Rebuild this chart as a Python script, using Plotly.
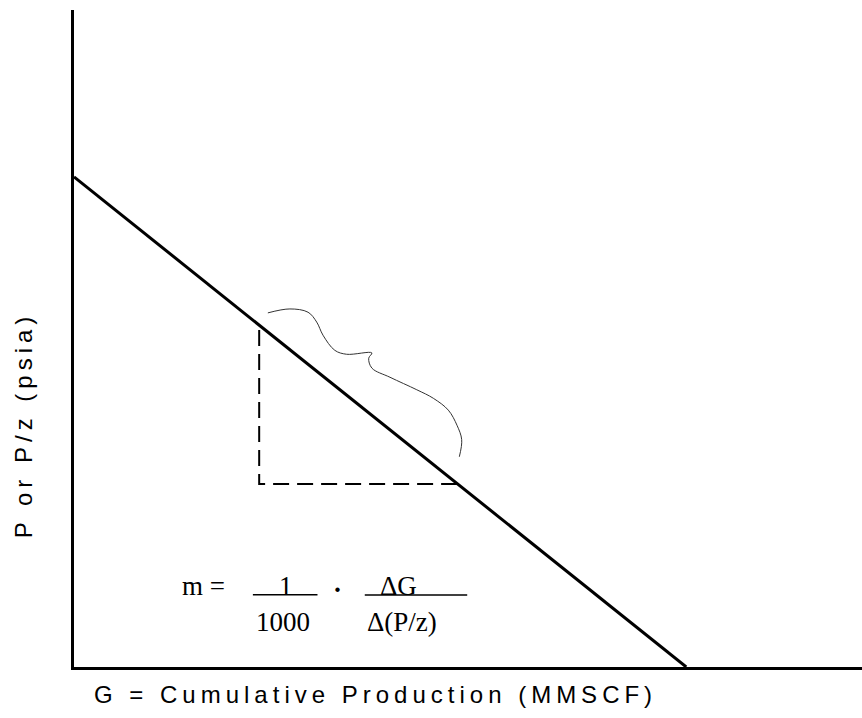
import plotly.graph_objects as go

# ---- data (schematic units: G and P/z scaled 0-100) ----
line_G = [0.0, 77.7]
line_P = [74.6, 0.0]

tri_G = [23.5, 23.5, 48.6]
tri_P = [51.3, 27.85, 27.85]

brace_G = [24.6, 27.4, 29.7, 30.8, 31.6, 33.1, 34.6, 37.8, 37.4, 37.8,
           40.1, 43.5, 45.6, 47.5, 48.6, 49.2, 48.9]
brace_P = [53.9, 54.5, 54.0, 52.5, 50.5, 48.2, 47.6, 47.8, 47.0, 45.5,
           44.1, 42.2, 40.9, 39.1, 36.8, 34.6, 32.0]

x_title = "G = Cumulative Production (MMSCF)"
y_title = "P or P/z (psia)"

fig = go.Figure()
fig.add_trace(go.Scatter(x=line_G, y=line_P, mode="lines",
                         line=dict(color="black", width=3), hoverinfo="skip"))
fig.add_trace(go.Scatter(x=tri_G, y=tri_P, mode="lines",
                         line=dict(color="black", width=2, dash="16px,8px"),
                         hoverinfo="skip"))
fig.add_trace(go.Scatter(x=brace_G, y=brace_P, mode="lines",
                         line=dict(color="#333333", width=1, shape="spline"),
                         hoverinfo="skip"))

serif = dict(family="Liberation Serif, Times New Roman, serif", size=27, color="black")
formula = [
    ("m =", 16.4, 12.3),
    ("1", 26.9, 12.3),
    ("<b>·</b>", 33.5, 11.7),
    ("ΔG", 41.2, 12.3),
    ("1000", 26.5, 6.85),
    ("Δ(P/z)", 41.6, 6.85),
]
for txt, gx, py in formula:
    fig.add_annotation(x=gx, y=py, xref="x", yref="y", text=txt, showarrow=False,
                       font=serif, xanchor="center", yanchor="middle")

bars = [(22.7, 30.9, 11.0), (36.9, 49.9, 10.96)]
for x0, x1, yb in bars:
    fig.add_shape(type="line", x0=x0, x1=x1, y0=yb, y1=yb, xref="x", yref="y",
                  line=dict(color="black", width=1.6))

sans = dict(family="Liberation Sans, Arial, sans-serif", size=24, color="black")
fig.add_annotation(x=0.0228, y=-0.0426, xref="paper", yref="paper",
                   text='<span style="letter-spacing:5px">' + x_title + "</span>",
                   showarrow=False, font=sans, xanchor="left", yanchor="middle")
fig.add_annotation(x=-0.0647, y=0.368, xref="paper", yref="paper",
                   text='<span style="letter-spacing:5px">' + y_title + "</span>",
                   showarrow=False, font=sans, textangle=-90,
                   xanchor="center", yanchor="middle")

fig.update_xaxes(range=[0, 100], showline=True, linecolor="black", linewidth=3,
                 showgrid=False, zeroline=False, showticklabels=False, ticks="")
fig.update_yaxes(range=[0, 100], showline=True, linecolor="black", linewidth=2.5,
                 showgrid=False, zeroline=False, showticklabels=False, ticks="")
fig.update_layout(width=862, height=718, margin=dict(l=74, r=0, t=10, b=51),
                  plot_bgcolor="white", paper_bgcolor="white", showlegend=False)

fig.write_html("out.html")
